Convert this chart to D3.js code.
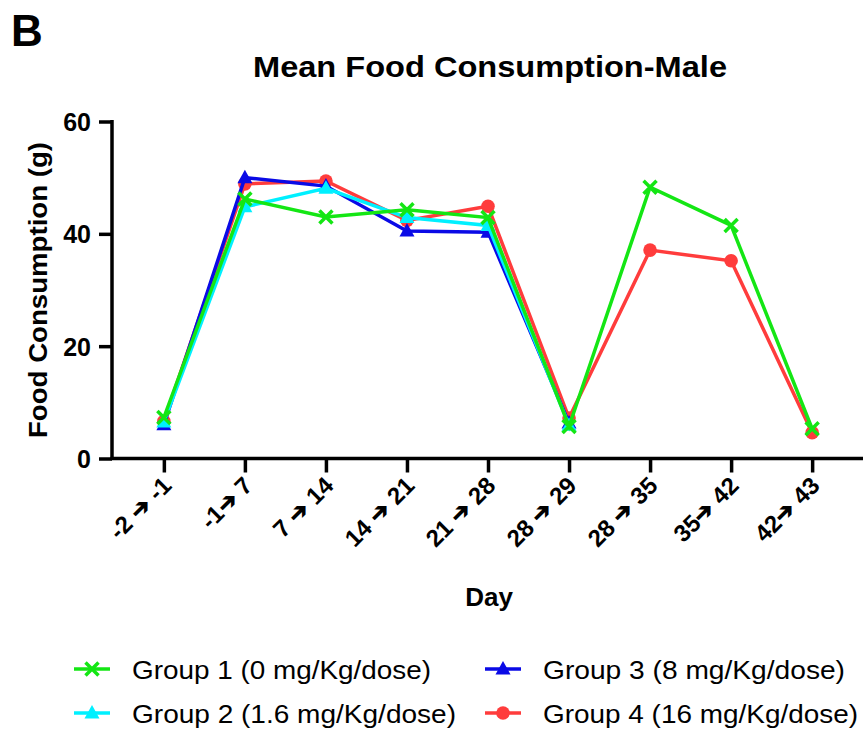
<!DOCTYPE html>
<html lang="en">
<head>
<meta charset="utf-8">
<title>Mean Food Consumption-Male</title>
<script src="https://cdnjs.cloudflare.com/ajax/libs/d3/7.8.5/d3.min.js"></script>
<style>
  body { margin: 0; background: #fff; }
  svg text { font-family: "Liberation Sans", Arial, sans-serif; fill: #000; }
  .bold { font-weight: bold; }
</style>
</head>
<body>
<div id="chart"></div>
<script>
// data
var days = ["-2 \u2794 -1", "-1\u2794 7", "7 \u2794 14", "14 \u2794 21", "21 \u2794 28",
            "28 \u2794 29", "28 \u2794 35", "35\u2794 42", "42\u2794 43"];
var group1 = [7.3, 46.2, 43.0, 44.3, 42.9, 5.7, 48.3, 41.5, 5.3];
var group2 = [6.5, 44.8, 48.1, 42.9, 41.5, 5.9, null, null, null];
var group3 = [6.0, 50.0, 48.5, 40.5, 40.3, 6.3, null, null, null];
var group4 = [6.6, 48.9, 49.4, 42.4, 44.9, 7.2, 37.1, 35.2, 4.6];
var yTicks = [0, 20, 40, 60];

var groupNames = ["Group 1 (0 mg/Kg/dose)", "Group 2 (1.6 mg/Kg/dose)",
                  "Group 3 (8 mg/Kg/dose)", "Group 4 (16 mg/Kg/dose)"];
var colors = ["#14e614", "#00f0ff", "#0a0ae6", "#ff3c3c"];
var shapes = ["cross", "triangle", "triangle", "circle"];

var W = 863, H = 731;
var svg = d3.select("#chart").append("svg").attr("width", W).attr("height", H);

var x = d3.scalePoint().domain(days).range([112, 864]).padding(0.64);
var y = d3.scaleLinear().domain([0, 60]).range([458.5, 121.5]);

// panel letter + title
svg.append("text").attr("class", "bold").attr("x", 11).attr("y", 46)
  .style("font-size", "44px").text("B");
svg.append("text").attr("class", "bold").attr("x", 253).attr("y", 77)
  .attr("textLength", 474).attr("lengthAdjust", "spacingAndGlyphs")
  .style("font-size", "30px").text("Mean Food Consumption-Male");

// axes
var yAxis = svg.append("g").attr("transform", "translate(112,0)")
  .call(d3.axisLeft(y).tickValues(yTicks).tickSize(13).tickSizeOuter(0).tickPadding(8));
var xAxis = svg.append("g").attr("transform", "translate(0,458.5)")
  .call(d3.axisBottom(x).tickSize(14).tickSizeOuter(0).tickFormat(""));
svg.selectAll(".domain").remove();
svg.append("line").attr("x1", 112).attr("x2", 112).attr("y1", 120).attr("y2", 460)
  .attr("stroke", "#000").attr("stroke-width", 3.5);
svg.append("line").attr("x1", 110.5).attr("x2", 863).attr("y1", 458.5).attr("y2", 458.5)
  .attr("stroke", "#000").attr("stroke-width", 3.5);
svg.selectAll(".tick line").attr("stroke", "#000").attr("stroke-width", 3.5);
yAxis.attr("font-size", null).attr("font-family", null);
yAxis.selectAll(".tick text").attr("class", "bold").style("font-size", "25px")
  .attr("dy", "0.36em");

// rotated day labels
svg.append("g").selectAll("text").data(days).enter().append("text")
  .attr("class", "bold")
  .attr("text-anchor", "end")
  .attr("transform", function (d) { return "translate(" + (x(d) + 9) + ",487) rotate(-45)"; })
  .style("font-size", "24px")
  .text(function (d) { return d; });

// axis titles
svg.append("text").attr("class", "bold").attr("text-anchor", "middle")
  .attr("transform", "translate(47,290) rotate(-90)")
  .attr("textLength", 296).attr("lengthAdjust", "spacingAndGlyphs")
  .style("font-size", "26px").text("Food Consumption (g)");
svg.append("text").attr("class", "bold").attr("text-anchor", "middle")
  .attr("x", 489).attr("y", 606).style("font-size", "26px").text("Day");

function marker(g, shape, color) {
  if (shape === "cross") {
    g.append("path").attr("d", "M-6.5,-6.5L6.5,6.5M-6.5,6.5L6.5,-6.5")
      .attr("stroke", color).attr("stroke-width", 3.5).attr("fill", "none");
  } else if (shape === "triangle") {
    g.append("path").attr("d", "M0,-8L7.5,5.5L-7.5,5.5Z").attr("fill", color);
  } else {
    g.append("circle").attr("r", 6.8).attr("fill", color);
  }
}

var series = [group1, group2, group3, group4];
var line = d3.line()
  .defined(function (d) { return d !== null; })
  .x(function (d, i) { return x(days[i]); })
  .y(function (d) { return y(d); });

// draw red first, green last (green on top)
[3, 2, 1, 0].forEach(function (k) {
  var g = svg.append("g");
  g.append("path").datum(series[k]).attr("d", line)
    .attr("fill", "none").attr("stroke", colors[k]).attr("stroke-width", 3.5)
    .attr("stroke-linejoin", "miter");
  series[k].forEach(function (v, i) {
    if (v === null) return;
    var m = g.append("g").attr("transform", "translate(" + x(days[i]) + "," + y(v) + ")");
    marker(m, shapes[k], colors[k]);
  });
});

// legend
var legPos = [[74, 669], [74, 713], [485, 669], [485, 713]];
var legLen = [299, 324, 302, 315];
groupNames.forEach(function (name, k) {
  var p = legPos[k];
  var g = svg.append("g").attr("transform", "translate(" + p[0] + "," + p[1] + ")");
  g.append("line").attr("x1", 0).attr("x2", 36).attr("stroke", colors[k]).attr("stroke-width", 3.5);
  var m = g.append("g").attr("transform", "translate(18,0)");
  marker(m, shapes[k], colors[k]);
  g.append("text").attr("x", 58).attr("y", 9.5)
    .attr("textLength", legLen[k]).attr("lengthAdjust", "spacingAndGlyphs")
    .style("font-size", "26px").text(name);
});
</script>
</body>
</html>
